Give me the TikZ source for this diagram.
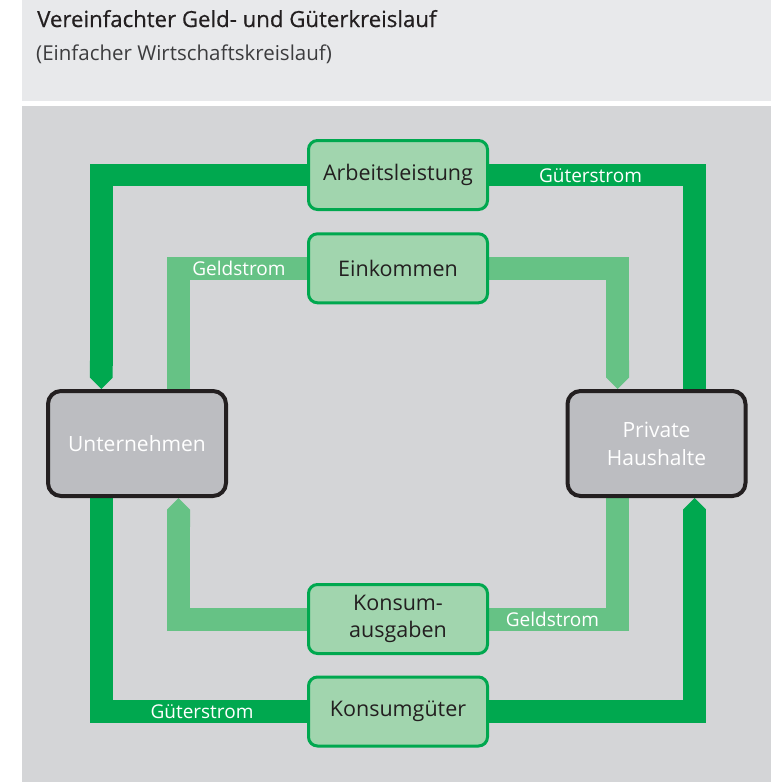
\documentclass[tikz,border=0pt]{standalone}
\usepackage{fontspec}
\setmainfont{Open Sans}
\newfontfamily\titlefont{Open Sans}[FakeBold=0.6]
\usetikzlibrary{arrows.meta,calc}
\definecolor{dgreen}{HTML}{00A84F}
\definecolor{lgreen}{HTML}{66C285}
\definecolor{boxfill}{HTML}{A1D5AE}
\definecolor{panel}{HTML}{D4D5D7}
\definecolor{header}{HTML}{E8E9EB}
\definecolor{grayfill}{HTML}{BCBDC1}
\definecolor{ink}{HTML}{231F20}
\definecolor{subink}{HTML}{3C3C3E}
\pgfdeclarelayer{back}
\pgfdeclarelayer{bands}
\pgfsetlayers{back,bands,main}
\begin{document}
\begin{tikzpicture}[x=1pt,y=-1pt,
  flowbox/.style={draw=dgreen, line width=3pt, fill=boxfill, rounded corners=9pt,
    minimum width=179pt, minimum height=69pt, inner sep=0pt, align=center,
    text=ink, font=\fontsize{21.5}{27.5}\selectfont},
  actor/.style={draw=ink, line width=4pt, fill=grayfill, rounded corners=13pt,
    minimum width=178pt, minimum height=105pt, inner sep=0pt, align=center,
    text=white, font=\fontsize{21}{28}\selectfont},
  gband/.style={draw=dgreen, line width=22.7pt, line join=miter},
  mband/.style={draw=lgreen, line width=23pt, line join=miter},
  tipend/.style={-{Triangle Cap}},
  flowlabel/.style={text=white, inner sep=0pt, font=\fontsize{19}{22}\selectfont}
]
\useasboundingbox (0,0) rectangle (771,782);
\begin{pgfonlayer}{back}
  \fill[white] (0,0) rectangle (771,782);
  \fill[header] (22,0) rectangle (771,100.7);
  \fill[panel] (22,106) rectangle (771,782);
\end{pgfonlayer}

\node[anchor=base west, inner sep=0pt, text=ink, font=\titlefont\fontsize{22.2}{26}\selectfont] (title) at (37,27) {Vereinfachter Geld- und Güterkreislauf};
\node[anchor=base west, inner sep=0pt, text=subink, font=\fontsize{20.5}{24}\selectfont] (subtitle) at (36,60) {(Einfacher Wirtschaftskreislauf)};

\node[flowbox] (arb) at (398,175) {Arbeitsleistung};
\node[flowbox] (ein) at (398,268.3) {Einkommen};
\node[flowbox] (kaus) at (398,619) {Konsum-\\ausgaben};
\node[flowbox] (kgut) at (398,711.5) {Konsumgüter};
\node[actor] (unt) at (137,443.5) {Unternehmen};
\node[actor] (hh) at (656.5,443.5) {Private\\Haushalte};

\coordinate (untGin) at ($(unt.north)+(-35.7,0)$);
\coordinate (untMout) at ($(unt.north)+(41.5,0)$);
\coordinate (untGout) at ($(unt.south)+(-35.7,0)$);
\coordinate (untMin) at ($(unt.south)+(41.5,0)$);
\coordinate (hhGout) at ($(hh.north)+(38,0)$);
\coordinate (hhMin) at ($(hh.north)+(-39,0)$);
\coordinate (hhGin) at ($(hh.south)+(38,0)$);
\coordinate (hhMout) at ($(hh.south)+(-39,0)$);

\begin{pgfonlayer}{bands}
  % Gueterstrom oben
  \draw[gband] (hhGout) |- (arb.east);
  \draw[gband, tipend] (arb.west) -| (untGin);
  % Geldstrom oben
  \draw[mband] (untMout) |- (ein.west);
  \draw[mband, tipend] (ein.east) -| (hhMin);
  % Geldstrom unten
  \draw[mband] (hhMout) |- (kaus.east);
  \draw[mband, tipend] (kaus.west) -| (untMin);
  % Gueterstrom unten
  \draw[gband] (untGout) |- (kgut.west);
  \draw[gband, tipend] (kgut.east) -| (hhGin);
\end{pgfonlayer}

\node[flowlabel] (l1) at (590.5,175.5) {Güterstrom};
\node[flowlabel] (l2) at (239,268.5) {Geldstrom};
\node[flowlabel] (l3) at (552.5,619.5) {Geldstrom};
\node[flowlabel] (l4) at (202,711.5) {Güterstrom};
\end{tikzpicture}
\end{document}
